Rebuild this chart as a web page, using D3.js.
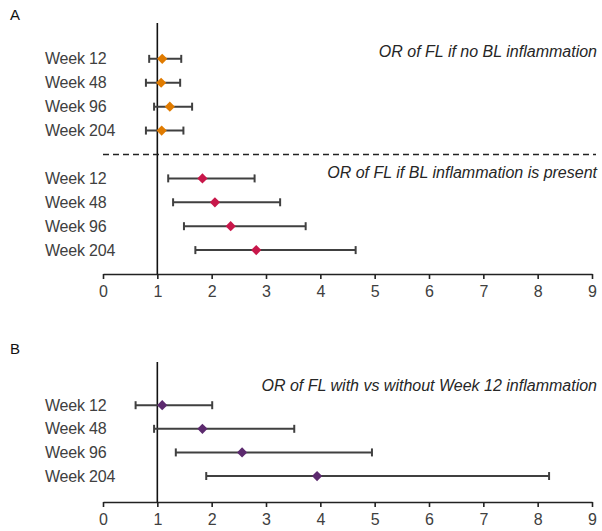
<!DOCTYPE html>
<html>
<head>
<meta charset="utf-8">
<script src="https://cdn.jsdelivr.net/npm/d3@7"></script>
<style>
  html, body { margin: 0; padding: 0; background: #fff; overflow: hidden; }
  svg { display: block; }
  text { font-family: Arial, "Liberation Sans", sans-serif; }
</style>
</head>
<body>
<div id="chart"></div>
<script>
const weeks = ['Week 12', 'Week 48', 'Week 96', 'Week 204'];

// Panel A, no baseline inflammation
const noBlOr = [1.09, 1.07, 1.23, 1.08];
const noBlLow = [0.85, 0.79, 0.94, 0.79];
const noBlHigh = [1.44, 1.42, 1.64, 1.48];

// Panel A, baseline inflammation present
const blOr = [1.83, 2.06, 2.35, 2.82];
const blLow = [1.20, 1.29, 1.49, 1.70];
const blHigh = [2.79, 3.26, 3.73, 4.65];

// Panel B, week 12 inflammation
const wk12Or = [1.09, 1.83, 2.56, 3.94];
const wk12Low = [0.60, 0.94, 1.34, 1.90];
const wk12High = [2.01, 3.52, 4.95, 8.21];

const xTicks = [0, 1, 2, 3, 4, 5, 6, 7, 8, 9];

const width = 602, height = 531;
const svg = d3.select('#chart').append('svg')
  .attr('width', width)
  .attr('height', height);

const x = d3.scaleLinear().domain([0, 9]).range([103, 592]);

const textGray = '#404040';
const barGray = '#404040';

function drawAxis(yAxisPos, yTop) {
  const g = svg.append('g')
    .attr('transform', `translate(0,${yAxisPos})`)
    .call(d3.axisBottom(x).tickValues(xTicks).tickSize(5).tickSizeOuter(0).tickPadding(7));
  g.select('.domain').attr('stroke', '#222').attr('stroke-width', 1.6);
  g.selectAll('.tick line').attr('stroke', '#222').attr('stroke-width', 1.6);
  g.selectAll('.tick text')
    .attr('fill', textGray)
    .style('font-size', '16px')
    .style('font-family', 'Arial, "Liberation Sans", sans-serif');

  // reference line at OR = 1
  svg.append('line')
    .attr('x1', x(1)).attr('x2', x(1))
    .attr('y1', yTop).attr('y2', yAxisPos)
    .attr('stroke', '#111')
    .attr('stroke-width', 1.6);
}

function drawRows(y, slots, or, low, high, color) {
  slots.forEach((s, i) => {
    const yy = y(s);
    svg.append('text')
      .attr('x', 45)
      .attr('y', yy + 5.5)
      .attr('fill', textGray)
      .style('font-size', '16px')
      .style('letter-spacing', '-0.2px')
      .text(weeks[i]);

    svg.append('line')
      .attr('x1', x(low[i])).attr('x2', x(high[i]))
      .attr('y1', yy).attr('y2', yy)
      .attr('stroke', barGray).attr('stroke-width', 2);
    [low[i], high[i]].forEach(v => {
      svg.append('line')
        .attr('x1', x(v)).attr('x2', x(v))
        .attr('y1', yy - 4).attr('y2', yy + 4)
        .attr('stroke', barGray).attr('stroke-width', 2);
    });

    // diamond: rotated square
    svg.append('path')
      .attr('d', d3.symbol().type(d3.symbolSquare).size(52)())
      .attr('transform', `translate(${x(or[i])},${yy}) rotate(45)`)
      .attr('fill', color);
  });
}

function title(txt, yy) {
  svg.append('text')
    .attr('x', 597)
    .attr('y', yy)
    .attr('text-anchor', 'end')
    .attr('fill', '#262626')
    .style('font-size', '16px')
    .style('font-style', 'italic')
    .text(txt);
}

// ---- Panel A
const yA = d3.scaleLinear().domain([-1.5, 9]).range([23, 274]);
drawAxis(yA(9), yA(-1.5));
drawRows(yA, [0, 1, 2, 3], noBlOr, noBlLow, noBlHigh, '#e07b00');
drawRows(yA, [5, 6, 7, 8], blOr, blLow, blHigh, '#c8174a');

svg.append('line')
  .attr('x1', 103).attr('x2', 596)
  .attr('y1', yA(4)).attr('y2', yA(4))
  .attr('stroke', '#222')
  .attr('stroke-width', 1.6)
  .attr('stroke-dasharray', '6,4');

title('OR of FL if no BL inflammation', 57);
title('OR of FL if BL inflammation is present', 178);

svg.append('text').attr('x', 10).attr('y', 20)
  .attr('fill', '#111').style('font-size', '15px').text('A');

// ---- Panel B
const yB = d3.scaleLinear().domain([-1.83, 4.1]).range([362, 502]);
drawAxis(yB(4.1), yB(-1.83));
drawRows(yB, [0, 1, 2, 3], wk12Or, wk12Low, wk12High, '#5c2a6e');

title('OR of FL with vs without Week 12 inflammation', 391);

svg.append('text').attr('x', 10).attr('y', 354)
  .attr('fill', '#111').style('font-size', '15px').text('B');
</script>
</body>
</html>
